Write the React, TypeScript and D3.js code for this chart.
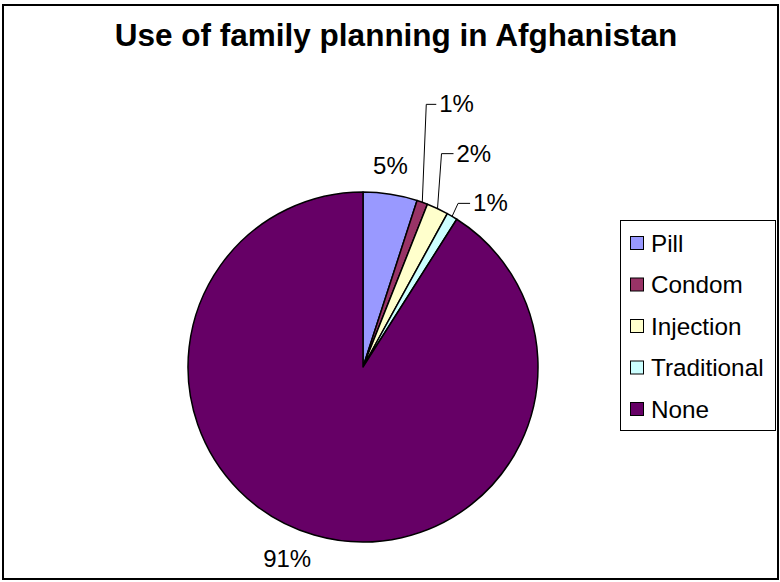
import React from "react";
import * as d3 from "d3";

const categories = ["Pill", "Condom", "Injection", "Traditional", "None"];
const values = [5, 1, 2, 1, 91];
const labels = ["5%", "1%", "2%", "1%", "91%"];
const colors = ["#9999FF", "#993366", "#FFFFCC", "#CCFFFF", "#660066"];
const title = "Use of family planning in Afghanistan";

// label layout (offsets from slice edge point): [dx, dy, elbowDx, elbowDy, leader]
const labelLayout: [number, number, number, number, boolean][] = [
  [0, -20, 0, 0, false],
  [17, -90, 4, -98, true],
  [19, -47, 4, -55, true],
  [21, -5, 6, -13, true],
  [-27, 32, 0, 0, false],
];

const W = 780;
const H = 582;
const cx = 363;
const cy = 367;
const R = 175;

export default function App() {
  const pie = d3.pie<number>().sort(null).value((d) => d)(values);
  const arc = d3.arc<d3.PieArcDatum<number>>().innerRadius(0).outerRadius(R);
  const legendY = d3.scalePoint<string>().domain(categories).range([243, 409]);

  return (
    <svg
      width={W}
      height={H}
      style={{ position: "absolute", left: 0, top: 0, background: "#fff" }}
      fontFamily="'Liberation Sans', Arial, sans-serif"
    >
      <rect x={3} y={5} width={775} height={574} fill="#fff" stroke="#000" strokeWidth={2} />
      <text x={396} y={46} textAnchor="middle" fontWeight="bold" fontSize={31.5} fill="#000">
        {title}
      </text>
      <g transform={`translate(${cx},${cy})`}>
        {pie.map((p, i) => (
          <path key={i} d={arc(p) || ""} fill={colors[i]} stroke="#000" strokeWidth={1.5} strokeLinejoin="round" />
        ))}
        {pie.map((p, i) => {
          const mid = (p.startAngle + p.endAngle) / 2;
          const ex = R * Math.sin(mid);
          const ey = -R * Math.cos(mid);
          const [dx, dy, edx, edy, leader] = labelLayout[i];
          const lx = ex + dx;
          const ly = ey + dy;
          return (
            <g key={"l" + i}>
              {leader && (
                <polyline
                  points={`${ex},${ey} ${ex + edx},${ey + edy} ${lx - 3},${ey + edy}`}
                  fill="none"
                  stroke="#000"
                  strokeWidth={1}
                />
              )}
              <text x={lx} y={ly} textAnchor={leader ? "start" : "middle"} fontSize={24} fill="#000">
                {labels[i]}
              </text>
            </g>
          );
        })}
      </g>
      <rect x={620.5} y={220.5} width={155} height={210} fill="#fff" stroke="#000" strokeWidth={1} />
      {categories.map((c, i) => {
        const y = legendY(c) as number;
        return (
          <g key={c}>
            <rect x={630.5} y={y - 6.5} width={13} height={13} fill={colors[i]} stroke="#000" strokeWidth={1} />
            <text x={651} y={y + 8.5} fontSize={24.3} fill="#000">
              {c}
            </text>
          </g>
        );
      })}
    </svg>
  );
}
